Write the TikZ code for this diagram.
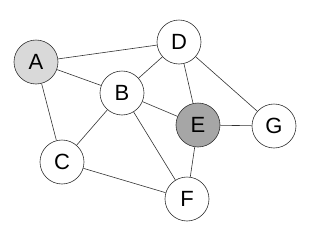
\documentclass[tikz,border=0pt]{standalone}
\usepackage{fontspec}
\setmainfont{Liberation Sans}
\usetikzlibrary{positioning}
\definecolor{grlight}{RGB}{217,217,217}
\definecolor{grdark}{RGB}{166,166,166}
\definecolor{grline}{RGB}{50,50,50}

\begin{document}
\begin{tikzpicture}[x=1pt, y=-1pt, font=\fontsize{22}{26}\selectfont,
  vertex/.style={circle, draw=grline, line width=0.6pt, fill=white, minimum size=44pt, inner sep=0pt},
  edge/.style={draw=grline, line width=0.6pt}]

\useasboundingbox (0,0) rectangle (314,228);

% vertices
\node[vertex, fill=grlight] (A) at (36,62) {A};
\node[vertex] (D) at (179,42) {D};
\node[vertex] (B) at (122,93) {B};
\node[vertex, fill=grdark] (E) at (198,125) {E};
\node[vertex] (G) at (274,126) {G};
\node[vertex] (C) at (62,162) {C};
\node[vertex] (F) at (187,199) {F};

% edges
\foreach \u/\v in {A/D,A/B,A/C,D/B,D/E,D/G,B/E,B/C,B/F,E/G,E/F,C/F}
  \draw[edge] (\u) -- (\v);

\end{tikzpicture}
\end{document}
